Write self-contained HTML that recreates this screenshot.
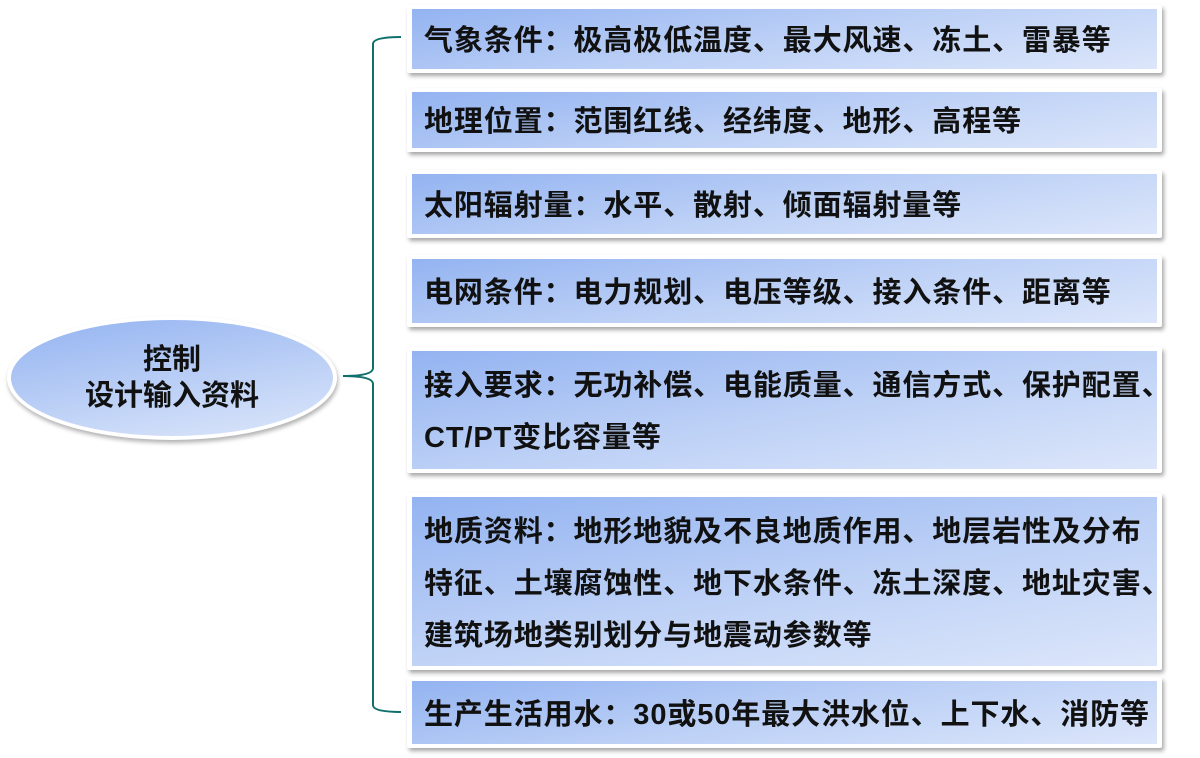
<!DOCTYPE html>
<html><head><meta charset="utf-8"><style>
body{margin:0;width:1200px;height:758px;background:#fff;position:relative;overflow:hidden;font-family:"Liberation Sans","Noto Sans CJK SC",sans-serif;}
.b{position:absolute;left:407px;width:755px;box-sizing:border-box;background:#fff;padding:4px 5px;box-shadow:2px 3px 4px rgba(0,0,0,.35);border-radius:2px;}
.b div{width:100%;height:100%;box-sizing:border-box;background:linear-gradient(170deg,#93b3f1 0%,#bcd0f6 50%,#dce6fa 100%);padding-left:12px;padding-top:4px;display:flex;align-items:center;font-weight:bold;font-size:29px;color:#111;line-height:52px;white-space:nowrap;letter-spacing:0.9px;}
.e{position:absolute;left:7px;top:316px;width:330px;height:124px;border-radius:50%;background:#fff;box-shadow:1px 3px 4px rgba(0,0,0,.3);}
.e div{position:absolute;left:4px;top:4px;right:4px;bottom:4px;border-radius:50%;background:linear-gradient(170deg,#93b3f1 0%,#bcd0f6 55%,#dce6fa 100%);text-align:center;font-weight:bold;font-size:29px;line-height:36px;padding-top:22px;box-sizing:border-box;color:#111;}
</style></head><body>
<div class="e"><div>控制<br>设计输入资料</div></div>
<svg style="position:absolute;left:0;top:0" width="1200" height="758"><path d="M401 37 Q373 37 373 44 L373 368 Q373 376 343 376 Q373 376 373 384 L373 705 Q373 712 401 712" fill="none" stroke="#0f6f6a" stroke-width="2"/></svg>
<div class="b" style="top:5px;height:68px"><div>气象条件：极高极低温度、最大风速、冻土、雷暴等</div></div>
<div class="b" style="top:88px;height:64px"><div>地理位置：范围红线、经纬度、地形、高程等</div></div>
<div class="b" style="top:170px;height:68px"><div>太阳辐射量：水平、散射、倾面辐射量等</div></div>
<div class="b" style="top:255px;height:72px"><div>电网条件：电力规划、电压等级、接入条件、距离等</div></div>
<div class="b" style="top:347px;height:126px"><div>接入要求：无功补偿、电能质量、通信方式、保护配置、<br>CT/PT变比容量等</div></div>
<div class="b" style="top:493px;height:177px"><div>地质资料：地形地貌及不良地质作用、地层岩性及分布<br>特征、土壤腐蚀性、地下水条件、冻土深度、地址灾害、<br>建筑场地类别划分与地震动参数等</div></div>
<div class="b" style="top:677px;height:71px"><div>生产生活用水：30或50年最大洪水位、上下水、消防等</div></div>
</body></html>
